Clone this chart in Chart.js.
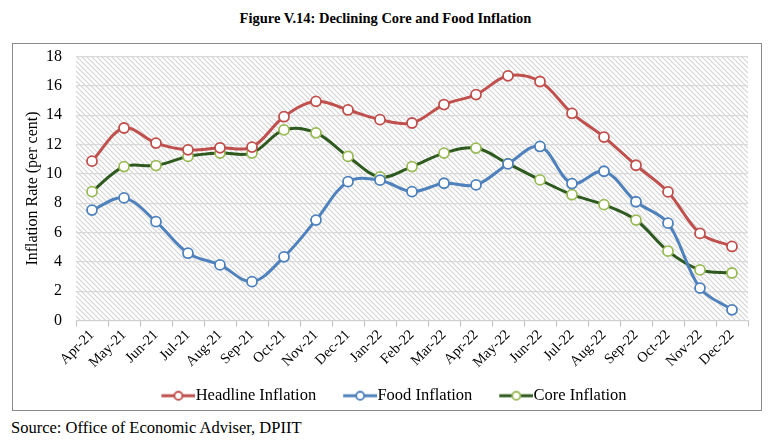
<!DOCTYPE html>
<html>
<head>
<meta charset="utf-8">
<script src="https://cdn.jsdelivr.net/npm/chart.js@4/dist/chart.umd.min.js"></script>
<style>
  html, body { margin: 0; padding: 0; background: #fff; }
  body { width: 771px; height: 441px; position: relative; overflow: hidden; font-family: 'Liberation Serif', 'Times New Roman', serif; }
  #title { position: absolute; left: 0; top: 10px; width: 771px; text-align: center; font-weight: bold; font-size: 14.5px; color: #000; }
  #box { position: absolute; left: 12px; top: 43px; width: 748px; height: 366px; border: 1.5px solid #8a8a8a; }
  #chart { position: absolute; left: 0; top: -11px; }
  #source { position: absolute; left: 11px; top: 418px; font-size: 16.5px; color: #000; }
</style>
</head>
<body>
<div id="title">Figure V.14: Declining Core and Food Inflation</div>
<div id="box"><canvas id="chart" width="748" height="381"></canvas></div>
<div id="source">Source: Office of Economic Adviser, DPIIT</div>
<script>
// chart data
const months = ['Apr-21','May-21','Jun-21','Jul-21','Aug-21','Sep-21','Oct-21','Nov-21','Dec-21',
                'Jan-22','Feb-22','Mar-22','Apr-22','May-22','Jun-22','Jul-22','Aug-22','Sep-22',
                'Oct-22','Nov-22','Dec-22'];
const headline = [10.87, 13.13, 12.10, 11.64, 11.78, 11.83, 13.90, 14.95, 14.36, 13.70, 13.47,
                  14.73, 15.41, 16.69, 16.30, 14.13, 12.51, 10.59, 8.77, 5.94, 5.05];
const food     = [7.53, 8.36, 6.74, 4.59, 3.79, 2.65, 4.34, 6.85, 9.47, 9.57, 8.79,
                  9.36, 9.25, 10.68, 11.87, 9.34, 10.18, 8.10, 6.64, 2.21, 0.73];
const core     = [8.79, 10.50, 10.57, 11.19, 11.42, 11.42, 13.00, 12.80, 11.19, 9.79, 10.50,
                  11.42, 11.76, 10.70, 9.59, 8.58, 7.90, 6.85, 4.73, 3.45, 3.24];
const yTicks   = [0, 2, 4, 6, 8, 10, 12, 14, 16, 18];

const FONT = "'Liberation Serif', 'Times New Roman', serif";
Chart.defaults.font.family = FONT;
Chart.defaults.color = '#000';

// ── hatched plot background ──────────────────────────────
function hatchPattern() {
    const c = document.createElement('canvas');
    c.width = 5; c.height = 5;
    const g = c.getContext('2d');
    g.fillStyle = '#ffffff';
    g.fillRect(0, 0, 5, 5);
    g.strokeStyle = '#d3d3d3';
    g.lineWidth = 1.1;
    g.beginPath();
    g.moveTo(-1, -1); g.lineTo(6, 6);
    g.moveTo(-6, -1); g.lineTo(1, 6);
    g.moveTo(4, -1); g.lineTo(11, 6);
    g.stroke();
    return c;
}

const hatchBg = {
    id: 'hatchBg',
    beforeDraw(chart) {
        const { ctx, chartArea: a } = chart;
        ctx.save();
        ctx.fillStyle = ctx.createPattern(hatchPattern(), 'repeat');
        ctx.fillRect(a.left, a.top, a.right - a.left, a.bottom - a.top);
        ctx.restore();
    }
};

// legend symbol: line with an open circle, right edge touching the text
const SYM_BOX = 43;
function legendSymbol(line, marker) {
    const c = document.createElement('canvas');
    c.width = SYM_BOX + 16; c.height = 12;
    const g = c.getContext('2d');
    const x1 = c.width, x0 = x1 - 34, cx = (x0 + x1) / 2;
    g.strokeStyle = line; g.lineWidth = 3;
    g.beginPath(); g.moveTo(x0, 6); g.lineTo(x1, 6); g.stroke();
    g.beginPath(); g.arc(cx, 6, 4, 0, Math.PI * 2);
    g.fillStyle = '#fff'; g.fill();
    g.strokeStyle = marker; g.lineWidth = 1.8; g.stroke();
    return c;
}

function series(label, data, line, marker) {
    return {
        label, data,
        borderColor: line, borderWidth: 3,
        pointBackgroundColor: '#ffffff', pointBorderColor: marker,
        pointBorderWidth: 1.8, pointRadius: 5, pointHoverRadius: 5,
        tension: 0.35, fill: false,
        legendSymbol: legendSymbol(line, marker)
    };
}

new Chart(document.getElementById('chart'), {
    type: 'line',
    data: {
        labels: months,
        datasets: [
            series('Headline Inflation', headline, '#c0504d', '#c0504d'),
            series('Food Inflation', food, '#4f81bd', '#4f81bd'),
            series('Core Inflation', core, '#2f5a1f', '#9bbb59')
        ]
    },
    options: {
        responsive: false, animation: false,
        layout: { padding: { left: 10, right: 13, top: 0, bottom: 0 } },
        plugins: {
            tooltip: { enabled: false },
            legend: {
                position: 'bottom',
                labels: {
                    color: '#000', font: { family: FONT, size: 16.5 },
                    usePointStyle: true, pointStyleWidth: SYM_BOX, padding: 10,
                    generateLabels(chart) {
                        return chart.data.datasets.map((ds, i) => ({
                            text: ds.label, pointStyle: ds.legendSymbol,
                            fillStyle: '#fff', strokeStyle: ds.borderColor,
                            lineWidth: 0, fontColor: '#000', datasetIndex: i, hidden: false
                        }));
                    }
                }
            }
        },
        scales: {
            x: {
                offset: true,
                afterFit(scale) { scale.height = 57; },
                grid: { display: true, drawOnChartArea: false, drawTicks: true, tickLength: 6, offset: true, color: '#bfbfbf' },
                border: { display: true, color: '#d0d0d0', width: 1 },
                ticks: { color: '#000', font: { family: FONT, size: 14.5 }, maxRotation: 45, minRotation: 45, autoSkip: false, padding: 0 }
            },
            y: {
                min: 0, max: 18,
                afterBuildTicks(scale) { scale.ticks = yTicks.map(v => ({ value: v })); },
                afterFit(scale) { scale.width = 53; },
                grid: { color: '#d9d9d9', lineWidth: 1.3, drawTicks: false },
                border: { display: false },
                ticks: { color: '#000', font: { family: FONT, size: 16 }, padding: 14 },
                title: { display: true, text: 'Inflation Rate (per cent)', color: '#000', font: { family: FONT, size: 16 }, padding: { top: 0, bottom: 4 } }
            }
        }
    },
    plugins: [hatchBg]
});
</script>
</body>
</html>
